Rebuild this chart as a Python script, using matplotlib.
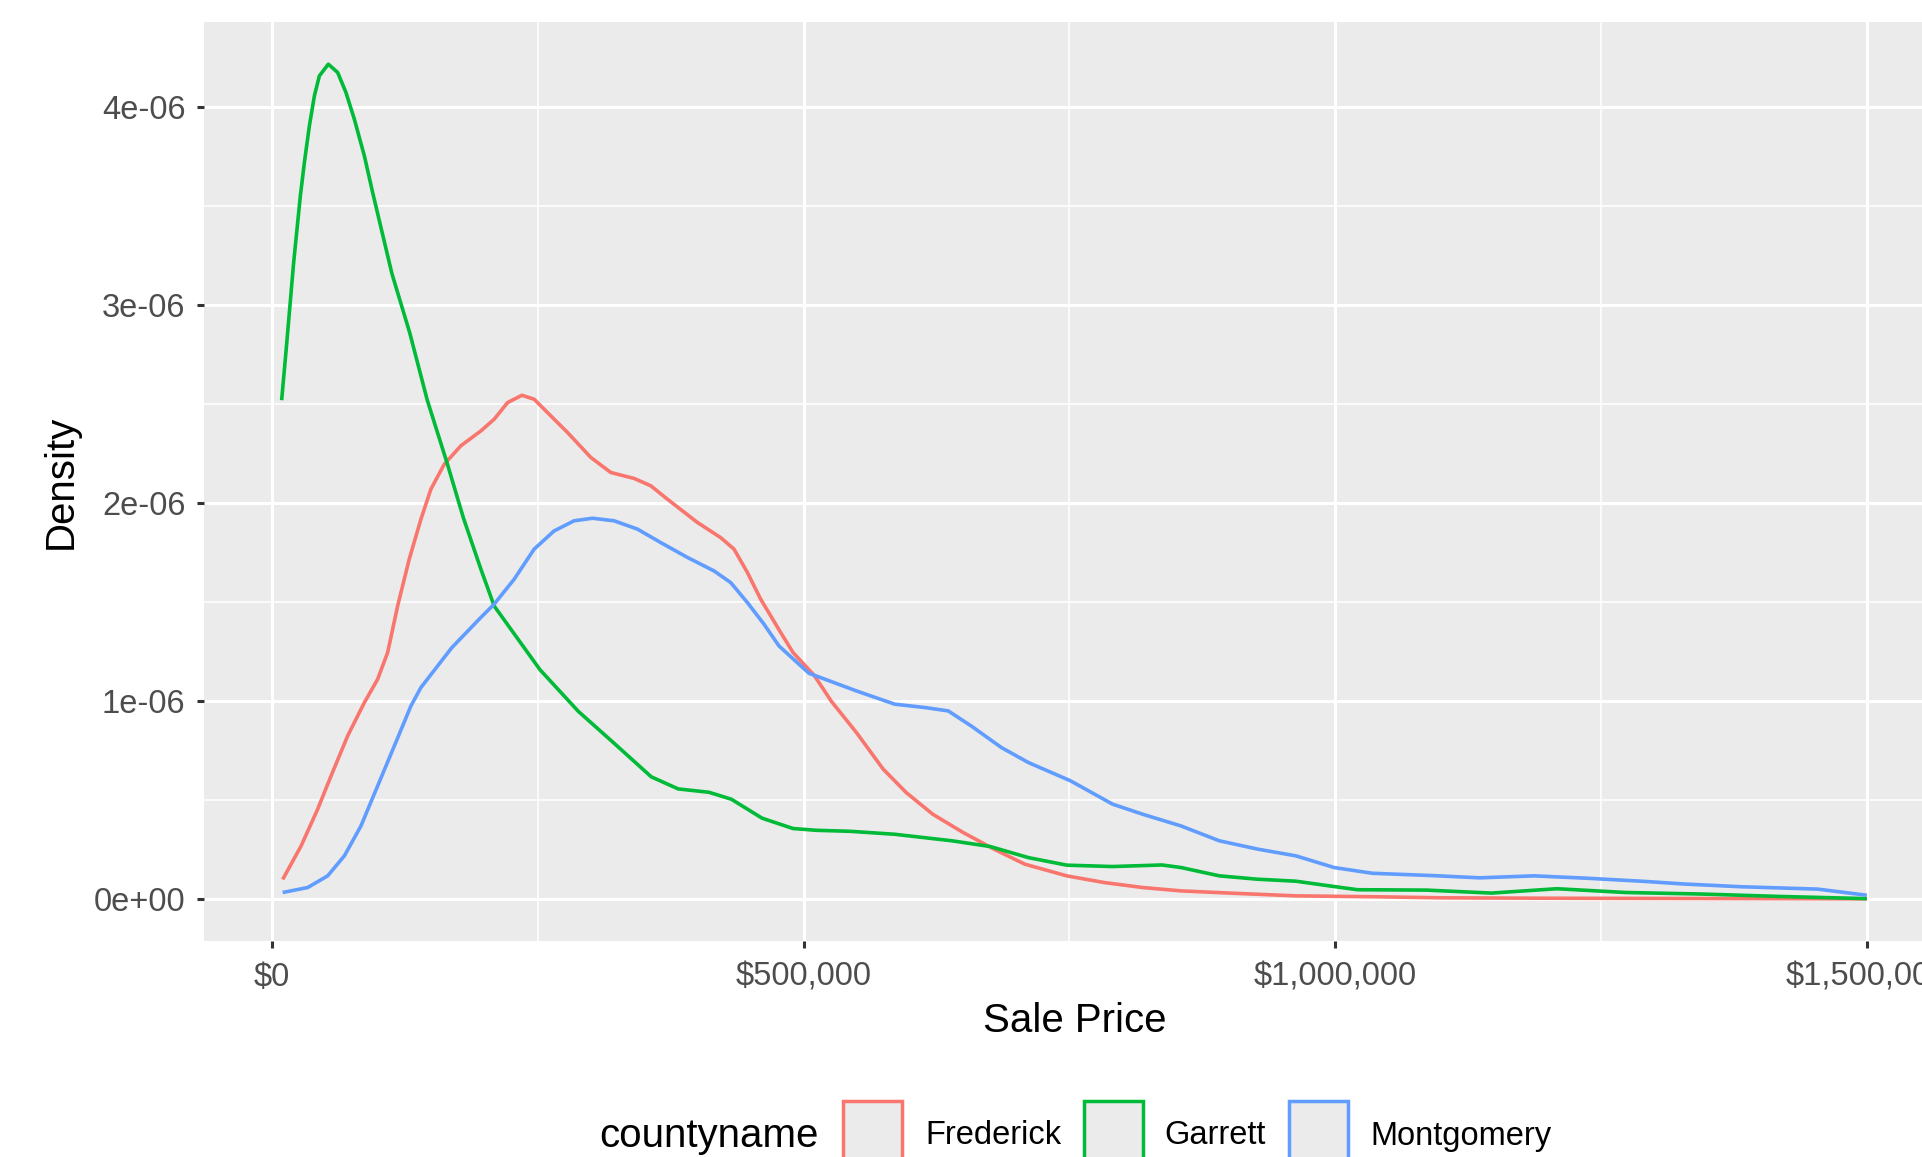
import matplotlib
matplotlib.use("Agg")
import matplotlib.pyplot as plt
from matplotlib.patches import Rectangle
from matplotlib.ticker import FixedLocator, FuncFormatter
import numpy as np

# density curves: price in $1000s, density in 1e-06
frederick_price = [10, 27.3, 42.9, 55.5, 71.1, 86.8, 99.3, 108.7, 118.1, 129, 140, 149.4, 162,
                   177.6, 196.4, 208.9, 221.5, 235, 246.5, 259, 277.9, 299.8, 318.6, 340.5, 356.2,
                   371.9, 400, 422, 434.5, 447.1, 459.6, 478.4, 490, 510, 526, 549.6, 574.8, 596.4,
                   621.5, 650, 679, 708, 747.5, 783, 819, 855, 909, 963, 1042, 1100, 1200, 1300,
                   1400, 1500]
frederick_dens = [0.10, 0.269, 0.455, 0.623, 0.825, 0.993, 1.111, 1.246, 1.481, 1.717, 1.919, 2.071,
                  2.197, 2.29, 2.365, 2.424, 2.508, 2.545, 2.525, 2.458, 2.357, 2.231, 2.155, 2.125,
                  2.088, 2.02, 1.903, 1.826, 1.768, 1.65, 1.515, 1.347, 1.246, 1.13, 1.00, 0.842,
                  0.657, 0.539, 0.429, 0.337, 0.253, 0.177, 0.118, 0.084, 0.059, 0.042, 0.029,
                  0.017, 0.012, 0.007, 0.005, 0.004, 0.003, 0.002]

garrett_price = [9, 13.5, 20.2, 26.6, 30.4, 35.1, 39.8, 44.5, 52.9, 61.7, 69.5, 77.4, 86.8, 94.6,
                 112.7, 129.5, 146, 164.5, 180, 196.4, 208.9, 237, 252, 288, 320.6, 356.7, 382,
                 411, 432, 461, 490, 512, 543.7, 585.6, 639.6, 675.5, 711.5, 747.5, 790.6, 837,
                 855, 891, 927, 963, 999, 1021, 1086, 1147, 1208.5, 1273, 1345.6, 1418, 1500]
garrett_dens = [2.52, 2.79, 3.21, 3.552, 3.721, 3.906, 4.057, 4.158, 4.217, 4.175, 4.074, 3.939,
                3.754, 3.569, 3.16, 2.86, 2.52, 2.205, 1.925, 1.667, 1.481, 1.271, 1.159, 0.949,
                0.793, 0.618, 0.557, 0.540, 0.505, 0.409, 0.357, 0.348, 0.343, 0.328, 0.295,
                0.266, 0.210, 0.172, 0.165, 0.173, 0.160, 0.118, 0.101, 0.091, 0.064, 0.048,
                0.046, 0.031, 0.053, 0.034, 0.026, 0.014, 0.003]

montgomery_price = [10, 33.5, 52.3, 68, 83.6, 99.3, 115, 130.6, 140, 169, 196.4, 208.9, 227.7,
                    246.5, 265.3, 284.1, 301.4, 321.7, 343.7, 365.6, 390.7, 415.7, 431.4, 447.1,
                    462.7, 476.8, 505, 549.6, 585.6, 614, 636, 657.6, 686, 711.5, 751, 790.6, 819,
                    855, 891, 927, 963, 999, 1035, 1093, 1136, 1187, 1237, 1291, 1327.5, 1381.7,
                    1454, 1500]
montgomery_dens = [0.034, 0.059, 0.118, 0.219, 0.370, 0.572, 0.774, 0.976, 1.069, 1.27, 1.423,
                   1.490, 1.616, 1.768, 1.860, 1.911, 1.924, 1.911, 1.869, 1.801, 1.726, 1.658,
                   1.599, 1.498, 1.389, 1.279, 1.141, 1.052, 0.985, 0.968, 0.951, 0.875, 0.766,
                   0.690, 0.598, 0.480, 0.429, 0.370, 0.295, 0.253, 0.219, 0.160, 0.131, 0.119,
                   0.108, 0.118, 0.106, 0.090, 0.077, 0.063, 0.051, 0.020]

counties = ["Frederick", "Garrett", "Montgomery"]
colors = ["#F8766D", "#00BA38", "#619CFF"]
x_ticks = [0, 500000, 1000000, 1500000]
y_ticks = [0, 1e-6, 2e-6, 3e-6, 4e-6]

plt.rcParams["font.family"] = ["Liberation Sans", "DejaVu Sans"]

W, H = 1922, 1157
fig = plt.figure(figsize=(W / 100, H / 100), dpi=100)


def fx(px):
    return px / W


def fy(py):
    return 1 - py / H


# panel runs past the right edge, like the cropped original
left, right, top, bottom = 203.5, 1946, 22, 941
ax = fig.add_axes([fx(left), fy(bottom), fx(right - left), (bottom - top) / H])
ax.set_facecolor("#EBEBEB")
for s in ax.spines.values():
    s.set_visible(False)

series = [(frederick_price, frederick_dens), (garrett_price, garrett_dens),
          (montgomery_price, montgomery_dens)]
for (px, dy), c in zip(series, colors):
    ax.plot(np.array(px) * 1000, np.array(dy) * 1e-6, color=c, lw=2.6, zorder=3,
            solid_capstyle="butt", solid_joinstyle="round")

ax.set_xlim(-64500, 1574500)
ax.set_ylim(-0.211e-6, 4.43e-6)

ax.xaxis.set_major_locator(FixedLocator(x_ticks))
ax.xaxis.set_minor_locator(FixedLocator([250000, 750000, 1250000]))
ax.yaxis.set_major_locator(FixedLocator(y_ticks))
ax.yaxis.set_minor_locator(FixedLocator([0.5e-6, 1.5e-6, 2.5e-6, 3.5e-6]))
ax.xaxis.set_major_formatter(FuncFormatter(lambda v, p: "${:,.0f}".format(v)))
ax.yaxis.set_major_formatter(FuncFormatter(lambda v, p: "{:.0e}".format(v)))

ax.grid(which="major", color="white", lw=2.2)
ax.grid(which="minor", color="white", lw=1.1)
ax.set_axisbelow(True)
ax.tick_params(which="major", length=5, width=2.2, color="#333333", labelsize=23.5,
               labelcolor="#4D4D4D")
ax.tick_params(axis="x", which="major", pad=10)
ax.tick_params(axis="y", which="major", pad=8)
ax.tick_params(which="minor", length=0)

ax.set_xlabel("Sale Price", fontsize=29)
ax.set_ylabel("Density", fontsize=29)
ax.xaxis.set_label_coords(0.5, (bottom - 1021) / (bottom - top))
ax.xaxis.label.set_va("center")
ax.yaxis.set_label_coords((61 - left) / (right - left), 0.5)
ax.yaxis.label.set_va("center")

# legend along the bottom edge
fig.text(fx(599), fy(1136), "countyname", fontsize=29, va="center", ha="left")
key_x = [843, 1084, 1289]
label_x = [925, 1164, 1370]
for name, c, kx, lx in zip(counties, colors, key_x, label_x):
    fig.patches.append(Rectangle((fx(kx), fy(1160)), fx(59), 59 / H, transform=fig.transFigure,
                                 facecolor="#EBEBEB", edgecolor=c, lw=2.5))
    fig.text(fx(lx), fy(1136), name, fontsize=23.5, va="center", ha="left")

fig.savefig("out.png", dpi=100)
